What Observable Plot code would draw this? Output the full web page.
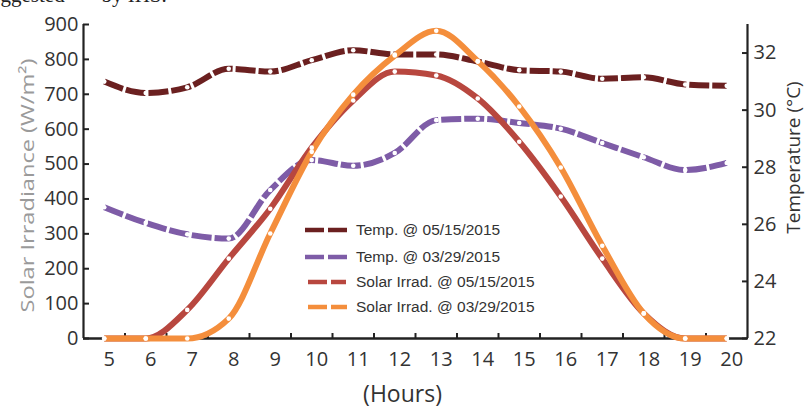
<!DOCTYPE html>
<html><head><meta charset="utf-8">
<script src="https://cdn.jsdelivr.net/npm/d3@7"></script>
<script src="https://cdn.jsdelivr.net/npm/@observablehq/plot@0.6"></script>
<style>
body{margin:0;background:#fff}
#chart{position:relative;width:805px;height:408px;overflow:hidden}
</style>
</head><body><div id="chart"></div>
<script>
// ---- data ----
const hours = [5,6,7,8,9,10,11,12,13,14,15,16,17,18,19,20];
const tempMay = [31.0,30.6,30.8,31.45,31.35,31.75,32.1,31.95,31.95,31.7,31.4,31.35,31.1,31.15,30.9,30.85];
const tempMar = [26.6,26.05,25.65,25.5,27.2,28.25,28.05,28.5,29.65,29.7,29.55,29.35,28.85,28.35,27.9,28.15];
const solarMay = [0,0,82,229,372,547,682,765,754,688,564,407,229,72,0,0];
const solarMar = [0,0,0,57,301,535,699,811,882,795,665,490,266,72,0,0];
const seriesNames = ["Temp. @ 05/15/2015","Temp. @ 03/29/2015","Solar Irrad. @ 05/15/2015","Solar Irrad. @ 03/29/2015"];
const irrTicks = [0,100,200,300,400,500,600,700,800,900];
const tempTicks = [22,24,26,28,30,32];
const hourTickMarks = [5.5,6.5,7.5,8.5,9.5,10.5,11.5,12.5,13.5,14.5,15.5,16.5,17.5,18.5,19.5];

// ---- layout / style ----
const xDomain = [4.5, 20.5];
const irrMax = 900, tMin = 22, tMax = 33;
const toY = t => (t - tMin) * irrMax / (tMax - tMin);
const colors = ["#6b2020", "#7e5ca7", "#b8473f", "#f48e3c"];
const axisColor = "#222";

const mk = (vals, f) => hours.map((h, i) => ({h, v: f(vals[i])}));
const dMay = mk(tempMay, toY), dMar = mk(tempMar, toY);
const sMay = mk(solarMay, v => v), sMar = mk(solarMar, v => v);
const all = [dMay, dMar, sMay, sMar];

const lineMark = (d, i, dash) => Plot.line(d, {x: "h", y: "v", stroke: colors[i], strokeWidth: 6,
  curve: "monotone-x", strokeDasharray: dash, strokeLinecap: "butt"});
const dotMark = d => Plot.dot(d, {x: "h", y: "v", r: 2.3, fill: "white", stroke: "none"});

const chart = Plot.plot({
  width: 805, height: 408,
  marginLeft: 83, marginRight: 58, marginTop: 24, marginBottom: 70,
  x: {domain: xDomain},
  y: {domain: [0, irrMax]},
  style: {fontFamily: "'Open Sans', sans-serif", fontSize: "20px", color: "#333", background: "white"},
  marks: [
    Plot.axisY({anchor: "left", ticks: irrTicks, tickSize: 0, tickPadding: 5, label: null, fontSize: 20}),
    Plot.axisY({anchor: "left", ticks: irrTicks, tickSize: 6, dx: 6, tickFormat: () => "", label: null, strokeWidth: 2, stroke: axisColor}),
    Plot.axisY({anchor: "right", ticks: tempTicks.map(toY), tickFormat: v => Math.round(tMin + v * (tMax - tMin) / irrMax), tickSize: 0, tickPadding: 6, label: null, fontSize: 20}),
    Plot.axisY({anchor: "right", ticks: tempTicks.map(toY), tickSize: 6, dx: -6, tickFormat: () => "", label: null, strokeWidth: 2, stroke: axisColor}),
    Plot.axisX({anchor: "bottom", ticks: hours, tickSize: 0, tickPadding: 13, dx: 5, label: null, fontSize: 20}),
    Plot.axisX({anchor: "bottom", ticks: hourTickMarks, tickSize: 5, dy: -5, tickFormat: () => "", label: null, strokeWidth: 2, stroke: axisColor}),
    Plot.ruleX(xDomain, {y1: 0, y2: irrMax, strokeWidth: 2.2, stroke: axisColor}),
    Plot.ruleY([0], {strokeWidth: 2.5, stroke: axisColor}),
    lineMark(dMay, 0, "20,3"),
    lineMark(dMar, 1, "20,3"),
    lineMark(sMay, 2, null),
    lineMark(sMar, 3, null),
    ...all.map(dotMark),
    Plot.text(["Temperature (°C)"], {frameAnchor: "right", dx: 46, dy: -24, rotate: -90, textAnchor: "middle", fontSize: 19, fill: "#333"}),
    Plot.text(["(Hours)"], {frameAnchor: "bottom", dx: -13, dy: 56, lineAnchor: "middle", fontSize: 23, fill: "#333"}),
    Plot.text(["Solar Irradiance (W/m²)"], {frameAnchor: "left", dx: -56, dy: 131, rotate: -90, textAnchor: "start", fontSize: 19, fill: "#9a9a9a"}),
    Plot.text(["ggested\u00a0\u00a0\u00a0\u00a0\u00a0\u00a0\u00a0by IHS."], {frameAnchor: "top-left", dx: -83, dy: -23, textAnchor: "start", lineAnchor: "bottom", fontSize: 21, fontFamily: "'Liberation Serif', serif", fill: "#222"})
  ]
});
document.getElementById("chart").appendChild(chart);

// stretch the faint left label to its length in the reference
d3.select(chart).selectAll("text").filter(function() { return this.textContent === "Solar Irradiance (W/m²)"; })
  .attr("textLength", 254).attr("lengthAdjust", "spacingAndGlyphs");

// ---- legend ----
const svg = d3.select(chart);
const lg = svg.append("g").attr("font-family", "'Liberation Sans', Arial, sans-serif").attr("font-size", 15.5)
  .attr("fill", "#333").attr("text-anchor", "start");
const rowsY = [230, 257, 282, 307];
const swX = [[305, 347], [305, 347], [308, 346], [308, 347]];
seriesNames.forEach((name, i) => {
  lg.append("line").attr("x1", swX[i][0]).attr("x2", swX[i][1]).attr("y1", rowsY[i]).attr("y2", rowsY[i])
    .attr("stroke", colors[i]).attr("stroke-width", 4.5).attr("stroke-dasharray", "19,4");
  lg.append("text").attr("x", 356).attr("y", rowsY[i]).attr("dy", "0.35em").attr("text-anchor", "start").text(name);
});
</script>
</body></html>
